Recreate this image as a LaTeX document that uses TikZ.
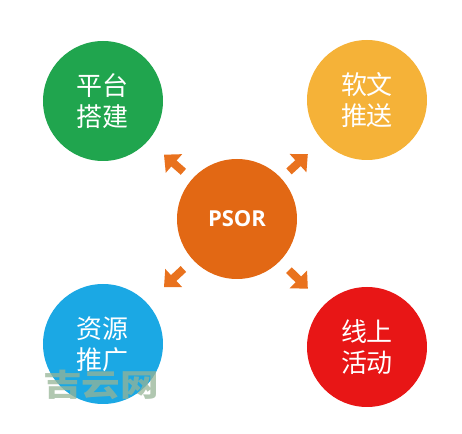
\documentclass[tikz,border=0pt]{standalone}
\usepackage{fontspec}
\newfontfamily\cjk{Noto Sans CJK SC}
\newfontfamily\latin{Open Sans}
\usetikzlibrary{calc,arrows.meta}
\definecolor{cgreen}{RGB}{32,165,78}
\definecolor{cyellow}{RGB}{245,178,56}
\definecolor{corange}{RGB}{226,104,20}
\definecolor{cblue}{RGB}{27,168,228}
\definecolor{cred}{RGB}{232,22,22}
\definecolor{carrow}{RGB}{233,114,30}
\definecolor{cmark}{RGB}{150,180,150}

\begin{document}
\begin{tikzpicture}[x=0.75pt,y=-0.75pt]
		\tikzstyle{Ball} = [circle, minimum size=90pt, inner sep=0pt, text=white, align=center, font=\cjk\fontsize{19.5}{23}\selectfont]
		\tikzstyle{Push} = [draw=carrow, line width=6pt, -{Triangle[width=18pt,length=10pt]}]
		
		\useasboundingbox (0,0) rectangle (462,434);
		\node[Ball, fill=corange, font=\latin\bfseries\fontsize{16.5}{18}\selectfont] (psor) at (237,219) {PSOR};
		\node[Ball, fill=cgreen]  (pt) at (103,101) {平台\\搭建};
		\node[Ball, fill=cyellow] (rw) at (367,100) {软文\\推送};
		\node[Ball, fill=cblue]   (zy) at (103,344) {资源\\推广};
		\node[Ball, fill=cred]    (xs) at (367,347) {线上\\活动};
		\foreach \t in {pt,rw,zy,xs}
			\draw[Push] ($(psor)!0.40!(\t)$) -- ($(psor)!0.545!(\t)$);
		\node[text=cmark, opacity=0.75, yscale=0.8, font=\cjk\bfseries\fontsize{29}{30}\selectfont] (mark) at (101,385) {吉云网};
	\end{tikzpicture}
\end{document}
